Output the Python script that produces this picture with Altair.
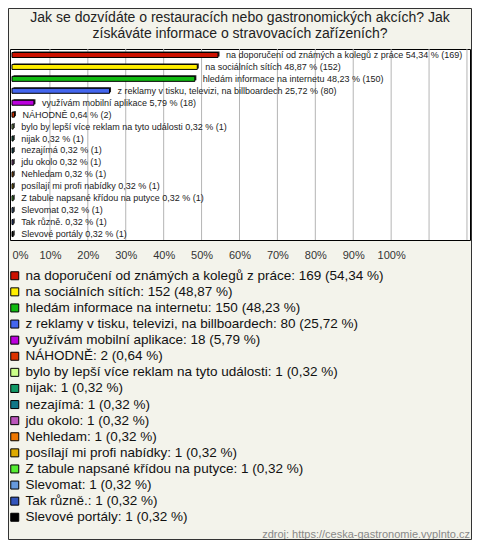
import altair as alt
import pandas as pd

title_lines = [
    "Jak se dozvídáte o restauracích nebo gastronomických akcích? Jak",
    "získáváte informace o stravovacích zařízeních?",
]
source_text = "zdroj: https://ceska-gastronomie.vyplnto.cz"

names = [
    "na doporučení od známých a kolegů z práce",
    "na sociálních sítích",
    "hledám informace na internetu",
    "z reklamy v tisku, televizi, na billboardech",
    "využívám mobilní aplikace",
    "NÁHODNĚ",
    "bylo by lepší více reklam na tyto události",
    "nijak",
    "nezajímá",
    "jdu okolo",
    "Nehledam",
    "posílají mi profi nabídky",
    "Z tabule napsané křídou na putyce",
    "Slevomat",
    "Tak různě.",
    "Slevové portály",
]
counts = [169, 152, 150, 80, 18, 2, 1, 1, 1, 1, 1, 1, 1, 1, 1, 1]
pcts = [54.34, 48.87, 48.23, 25.72, 5.79, 0.64, 0.32, 0.32, 0.32, 0.32,
        0.32, 0.32, 0.32, 0.32, 0.32, 0.32]
colors = [
    "#cc1100", "#ffee00", "#11bb11", "#4466ee", "#bb00dd", "#dd3300",
    "#ccff88", "#119966", "#117788", "#bb55bb", "#ee7700", "#ddaa00",
    "#55ee33", "#6699dd", "#3355bb", "#000000",
]
tick_values = [0, 10, 20, 30, 40, 50, 60, 70, 80, 90, 100]
grid_values = [10, 20, 30, 40, 50, 60, 70, 80, 90, 100, 110, 120]


def fmt(p):
    return f"{p:.2f}".replace(".", ",")


bar_labels = [f"{n} {fmt(p)} % ({c})" for n, c, p in zip(names, counts, pcts)]
legend_labels = [f"{n}: {c} ({fmt(p)} %)" for n, c, p in zip(names, counts, pcts)]

df = pd.DataFrame({
    "name": names,
    "count": counts,
    "pct": pcts,
    "bar_label": bar_labels,
    "legend_label": legend_labels,
})
grid_df = pd.DataFrame({"g": grid_values})

FONT = "Liberation Sans"
xscale = alt.Scale(domain=[-0.53, 120.8], nice=False, zero=False)
yenc = alt.Y("name:N", sort=names, axis=None)

grid = alt.Chart(grid_df).mark_rule(color="#b5b5b5", strokeWidth=1).encode(
    x=alt.X("g:Q", scale=xscale)
)

shadow = alt.Chart(df).mark_bar(size=5, color="#222222", xOffset=1.5, yOffset=-1).encode(
    x=alt.X("pct:Q", scale=xscale),
    y=yenc,
)

bars = alt.Chart(df).mark_bar(size=5, stroke="#000000", strokeWidth=1).encode(
    x=alt.X(
        "pct:Q",
        scale=xscale,
        axis=alt.Axis(
            values=tick_values,
            labelExpr="datum.value + '%'",
            labelAlign={"expr": "datum.value == 0 ? 'left' : 'center'"},
            grid=False,
            domain=False,
            ticks=False,
            labelPadding=9,
            labelFontSize=11,
            labelFont=FONT,
            labelColor="#333333",
            title=None,
        ),
    ),
    y=yenc,
    color=alt.Color(
        "legend_label:N",
        scale=alt.Scale(domain=legend_labels, range=colors),
        legend=alt.Legend(
            title=None,
            orient="none",
            legendX=-2,
            legendY=220,
            direction="vertical",
            symbolType="square",
            symbolSize=64,
            symbolStrokeColor="#000000",
            symbolStrokeWidth=1,
            symbolOpacity=1,
            labelFontSize=13.5,
            labelFont=FONT,
            labelColor="#111111",
            labelOffset=4,
            rowPadding=1.1,
            labelLimit=470,
            padding=0,
        ),
    ),
)

labels = alt.Chart(df).mark_text(
    align="left", baseline="middle", dx=8, fontSize=9, font=FONT, color="#222222"
).encode(
    x=alt.X("pct:Q", scale=xscale),
    y=yenc,
    text="bar_label:N",
)

title = alt.Chart(alt.Data(values=[{}])).mark_text(
    text=title_lines, fontSize=14, font=FONT, color="#222222",
    align="center", baseline="middle", lineHeight=16,
).encode(x=alt.value(230), y=alt.value(-31))

source = alt.Chart(alt.Data(values=[{}])).mark_text(
    text=source_text, fontSize=11, font=FONT, color="#888888",
    align="right", baseline="middle",
).encode(x=alt.value(460), y=alt.value(486))

border = alt.Chart(alt.Data(values=[{}])).mark_rect(
    fill="transparent", stroke="#333333", strokeWidth=1
).encode(
    x=alt.value(-1.5), x2=alt.value(461.5), y=alt.value(-40.5), y2=alt.value(490.5)
)

chart = alt.layer(grid, shadow, bars, labels, title, source, border).properties(
    width=460,
    height=191,
    padding={"left": 2, "top": 41, "right": 2, "bottom": 300},
    autosize="none",
).configure(
    background="#f3f3eb",
).configure_view(
    fill="#ffffff", stroke="#000000", strokeWidth=1
)

chart.save("out.html", embed_options={"renderer": "svg", "actions": False})
